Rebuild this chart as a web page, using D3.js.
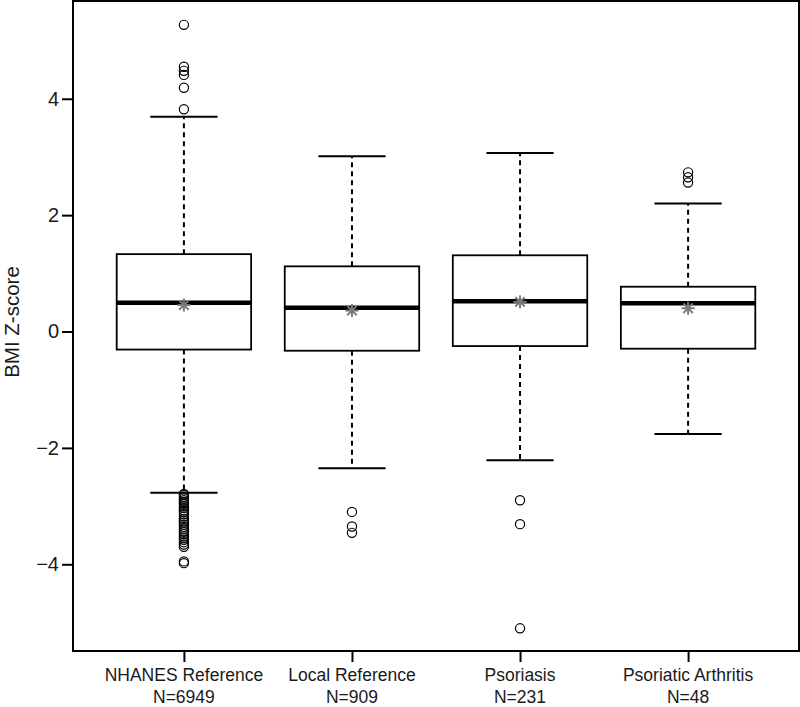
<!DOCTYPE html>
<html>
<head>
<meta charset="utf-8">
<script src="https://cdn.jsdelivr.net/npm/d3@7"></script>
<style>
  html, body { margin: 0; padding: 0; background: #fff; }
  svg { display: block; }
  text { font-family: "Liberation Sans", Arial, sans-serif; fill: #1a1a1a; }
</style>
</head>
<body>
<svg id="chart" width="800" height="707"></svg>
<script>
// ---- data ----
const categories = ["NHANES Reference", "Local Reference", "Psoriasis", "Psoriatic Arthritis"];
const nLabels = ["N=6949", "N=909", "N=231", "N=48"];
const lowerWhisker = [-2.77, -2.35, -2.21, -1.76];
const q1 = [-0.31, -0.33, -0.25, -0.295];
const medians = [0.495, 0.41, 0.52, 0.485];
const q3 = [1.33, 1.12, 1.31, 0.77];
const upperWhisker = [3.69, 3.01, 3.07, 2.20];
const means = [0.455, 0.36, 0.51, 0.40];
const outliers = [
  [5.27, 4.55, 4.48, 4.41, 4.19, 3.82,
   -2.79, -2.81, -2.84, -2.87, -2.90, -2.93, -2.96, -3.00, -3.03, -3.07, -3.10, -3.14,
   -3.18, -3.22, -3.25, -3.28, -3.32, -3.36, -3.40, -3.44, -3.48, -3.52, -3.55, -3.58,
   -3.62, -3.66, -3.70, -3.95, -3.98],
  [-3.10, -3.35, -3.46],
  [-2.90, -3.31, -5.10],
  [2.735, 2.65, 2.56]
];
const yTicks = [-4, -2, 0, 2, 4];
const yLabel = "BMI Z-score";

// ---- layout ----
const svg = d3.select("#chart");
const pLeft = 73, pRight = 799, pTop = 1, pBottom = 651;

const x = d3.scaleLinear().domain([0.34, 4.66]).range([pLeft, pRight]);
const y = d3.scaleLinear().domain([-5.49, 5.68]).range([pBottom, pTop]);

const boxW = x(0.8) - x(0);
const capW = x(0.4) - x(0);

const groups = categories.map((c, i) => ({
  i, pos: i + 1, lw: lowerWhisker[i], q1: q1[i], med: medians[i], q3: q3[i],
  uw: upperWhisker[i], mean: means[i], out: outliers[i]
}));

const g = svg.append("g");

// whiskers (dashed)
g.selectAll(".wu").data(groups).join("line")
  .attr("x1", d => x(d.pos)).attr("x2", d => x(d.pos))
  .attr("y1", d => y(d.q3)).attr("y2", d => y(d.uw))
  .attr("stroke", "#000").attr("stroke-width", 2).attr("stroke-dasharray", "5,4");
g.selectAll(".wl").data(groups).join("line")
  .attr("x1", d => x(d.pos)).attr("x2", d => x(d.pos))
  .attr("y1", d => y(d.q1)).attr("y2", d => y(d.lw))
  .attr("stroke", "#000").attr("stroke-width", 2).attr("stroke-dasharray", "5,4");

// caps
g.selectAll(".cu").data(groups).join("line")
  .attr("x1", d => x(d.pos) - capW / 2).attr("x2", d => x(d.pos) + capW / 2)
  .attr("y1", d => y(d.uw)).attr("y2", d => y(d.uw))
  .attr("stroke", "#000").attr("stroke-width", 2);
g.selectAll(".cl").data(groups).join("line")
  .attr("x1", d => x(d.pos) - capW / 2).attr("x2", d => x(d.pos) + capW / 2)
  .attr("y1", d => y(d.lw)).attr("y2", d => y(d.lw))
  .attr("stroke", "#000").attr("stroke-width", 2);

// boxes
g.selectAll(".box").data(groups).join("rect")
  .attr("x", d => x(d.pos) - boxW / 2).attr("width", boxW)
  .attr("y", d => y(d.q3)).attr("height", d => y(d.q1) - y(d.q3))
  .attr("fill", "#fff").attr("stroke", "#000").attr("stroke-width", 1.8);

// medians
g.selectAll(".med").data(groups).join("line")
  .attr("x1", d => x(d.pos) - boxW / 2).attr("x2", d => x(d.pos) + boxW / 2)
  .attr("y1", d => y(d.med)).attr("y2", d => y(d.med))
  .attr("stroke", "#000").attr("stroke-width", 4.5);

// outliers
groups.forEach(d => {
  g.selectAll(null).data(d.out).join("circle")
    .attr("cx", x(d.pos)).attr("cy", v => y(v)).attr("r", 4.6)
    .attr("fill", "none").attr("stroke", "#000").attr("stroke-width", 1.2);
});

// mean stars (pch 8)
const s = 6.5, sd = s * 0.72;
const star = g.selectAll(".star").data(groups).join("g")
  .attr("transform", d => `translate(${x(d.pos)},${y(d.mean)})`)
  .attr("stroke", "#7a7a7a").attr("stroke-width", 2);
star.append("line").attr("x1", -s).attr("x2", s).attr("y1", 0).attr("y2", 0);
star.append("line").attr("x1", 0).attr("x2", 0).attr("y1", -s).attr("y2", s);
star.append("line").attr("x1", -sd).attr("x2", sd).attr("y1", -sd).attr("y2", sd);
star.append("line").attr("x1", -sd).attr("x2", sd).attr("y1", sd).attr("y2", -sd);

// frame
svg.append("rect").attr("x", pLeft).attr("y", pTop)
  .attr("width", pRight - pLeft).attr("height", pBottom - pTop)
  .attr("fill", "none").attr("stroke", "#000").attr("stroke-width", 2);

// y axis
const yAxis = d3.axisLeft(y).tickValues(yTicks).tickSize(11).tickPadding(3)
  .tickFormat(v => (v < 0 ? "\u2212" + Math.abs(v) : String(v)));
const ya = svg.append("g").attr("transform", `translate(${pLeft},0)`).call(yAxis);
ya.select(".domain").remove();
ya.selectAll(".tick line").attr("stroke", "#000").attr("stroke-width", 2);
ya.selectAll(".tick text").attr("font-size", 20).attr("fill", "#1a1a1a")
  .style("font-family", "'Liberation Sans', Arial, sans-serif");

// x axis
const xAxis = d3.axisBottom(x).tickValues(categories.map((c, i) => i + 1)).tickSize(11).tickFormat("");
const xa = svg.append("g").attr("transform", `translate(0,${pBottom})`).call(xAxis);
xa.select(".domain").remove();
xa.selectAll(".tick line").attr("stroke", "#000").attr("stroke-width", 2);

svg.selectAll(".xl1").data(categories).join("text")
  .attr("x", (c, i) => x(i + 1)).attr("y", 681)
  .attr("text-anchor", "middle").attr("font-size", 17.5).text(c => c);
svg.selectAll(".xl2").data(nLabels).join("text")
  .attr("x", (c, i) => x(i + 1)).attr("y", 703)
  .attr("text-anchor", "middle").attr("font-size", 17.5).text(c => c);

// y label
svg.append("text")
  .attr("transform", `translate(19,${(pTop + pBottom) / 2 - 4}) rotate(-90)`)
  .attr("text-anchor", "middle").attr("font-size", 20.5).text(yLabel);
</script>
</body>
</html>
